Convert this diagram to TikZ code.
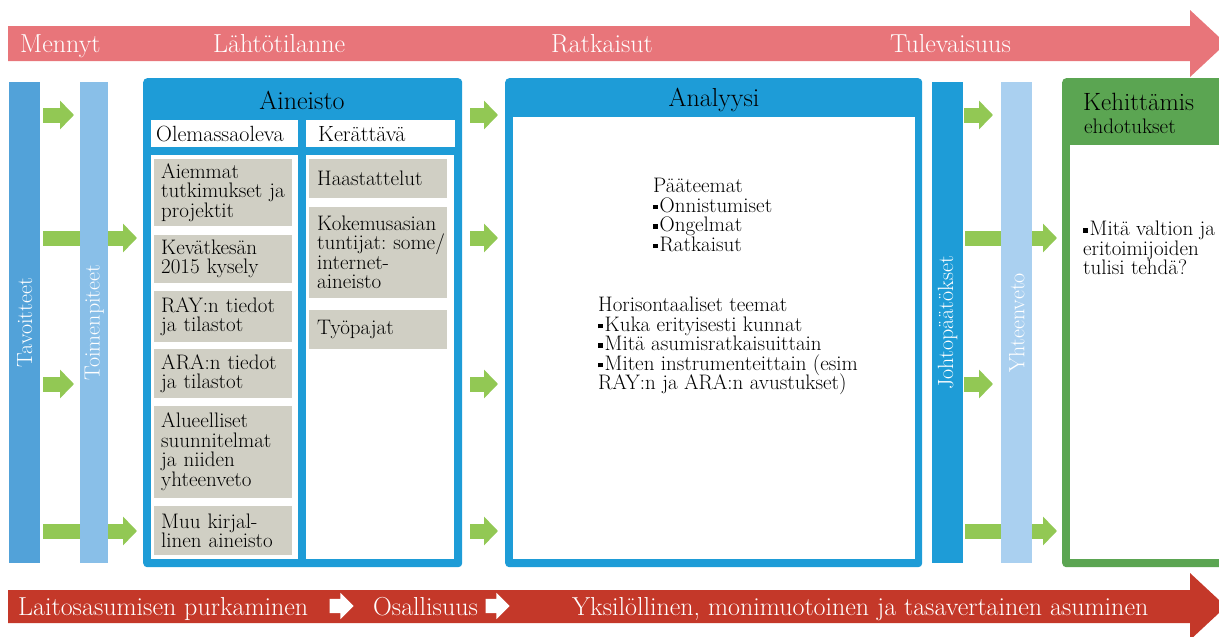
\documentclass[tikz,border=0pt]{standalone}
\usepackage{fontspec}
\usetikzlibrary{arrows.meta,positioning,shapes.arrows,backgrounds}

\definecolor{bandtop}{RGB}{232,117,122}
\definecolor{bandbot}{RGB}{196,56,41}
\definecolor{aqua}{RGB}{30,156,215}
\definecolor{barone}{RGB}{82,162,217}
\definecolor{bartwo}{RGB}{137,191,232}
\definecolor{barthree}{RGB}{170,208,240}
\definecolor{leaf}{RGB}{91,165,82}
\definecolor{shoot}{RGB}{146,200,84}
\definecolor{stone}{RGB}{208,207,196}

\newcommand{\bandf}{\fontsize{26}{28}\selectfont}
\newcommand{\headf}{\fontsize{26}{28}\selectfont}
\newcommand{\bodyf}{\fontsize{21}{19.5}\selectfont\lineskiplimit=-20pt\lineskip=0pt}
\newcommand{\textf}{\fontsize{21}{19.5}\selectfont\lineskiplimit=-20pt\lineskip=0pt}
\newcommand{\sqb}{\rule[3pt]{4.5pt}{4.5pt}\hspace{2pt}}

\tikzset{
  bar/.style={anchor=north west, minimum width=31pt, minimum height=481pt, inner sep=0pt},
  bartext/.style={rotate=90, text=white, font=\fontsize{22}{24}\selectfont, inner sep=0pt},
  bigbox/.style={anchor=north west, rounded corners=4pt, minimum height=489pt, inner sep=0pt},
  panel/.style={fill=white, anchor=north west, minimum height=404pt, minimum width=147pt, inner sep=0pt},
  subhead/.style={fill=white, anchor=north west, minimum height=27pt, text width=137pt, inner xsep=5pt, inner ysep=0pt, align=left, font=\fontsize{22}{24}\selectfont},
  greybox/.style={fill=stone, anchor=north west, text width=124pt, inner xsep=7pt, inner ysep=0pt, align=left, font=\bodyf},
  bodytext/.style={anchor=north west, align=left, font=\textf, inner sep=0pt},
  garrow/.style={draw=shoot, line width=15pt, -{Triangle[length=14pt,width=28pt]}},
  bandtext/.style={text=white, font=\bandf, anchor=base west, inner sep=0pt},
  wtip/.style={single arrow, fill=white, minimum height=24pt, minimum width=26pt, single arrow head extend=6pt, inner sep=0pt}
}

\begin{document}
\begin{tikzpicture}[x=1pt,y=-1pt]
\useasboundingbox (0,0) rectangle (1219,637);

\fill[bandtop] (8,26) -- (1190,26) -- (1190,10) -- (1226,43.5) -- (1190,77) -- (1190,61) -- (8,61) -- cycle;
\fill[bandbot] (8,590) -- (1190,590) -- (1190,573) -- (1226,606.5) -- (1190,640) -- (1190,623) -- (8,623) -- cycle;

\node[bandtext] (past) at (20,52) {Mennyt};
\node[bandtext] (start) at (213,52) {Lähtötilanne};
\node[bandtext] (sol) at (551,52) {Ratkaisut};
\node[bandtext] (fut) at (890,52) {Tulevaisuus};

\node[bandtext] (dein) at (18,615) {Laitosasumisen purkaminen};
\node[wtip] (wa1) at (338,606) {\rule{0pt}{14pt}};
\node[bandtext] (part) at (373,615) {Osallisuus};
\node[wtip] (wa2) at (494,606) {\rule{0pt}{14pt}};
\node[bandtext] (indiv) at (572,615) {Yksilöllinen, monimuotoinen ja tasavertainen asuminen};

\node[bar, fill=barone] (tav) at (9,82) {};
\node[bar, fill=bartwo, minimum width=28pt] (toim) at (80,82) {};
\node[bar, fill=aqua] (joh) at (932,82) {};
\node[bar, fill=barthree] (yht) at (1001,82) {};
\node[bartext] (tavt) at (tav.center) {Tavoitteet};
\node[bartext] (toimt) at (toim.center) {Toimenpiteet};
\node[bartext] (joht) at (joh.center) {Johtopäätökset};
\node[bartext] (yhtt) at (yht.center) {Yhteenveto};

\node[bigbox, fill=aqua, minimum width=319pt] (ain) at (143,78) {};
\node[font=\headf, inner sep=0pt] (aint) at (302,100) {Aineisto};
\node[subhead] (olem) at (151,120) {Olemassaoleva};
\node[subhead, text width=125pt, inner xsep=12pt] (ker) at (306,120) {Kerättävä};
\node[panel] (colL) at (151,155) {};
\node[panel, minimum width=148pt] (colR) at (306,155) {};

\node[greybox, minimum height=67pt] (g1) at (154,159) {Aiemmat\\ tutkimukset~ja\\ projektit};
\node[greybox, minimum height=48pt, below=8pt of g1] (g2) {Kevätkesän\\ 2015 kysely};
\node[greybox, minimum height=51pt, below=8pt of g2] (g3) {RAY:n tiedot\\ ja tilastot};
\node[greybox, minimum height=49pt, below=7pt of g3] (g4) {ARA:n tiedot\\ ja tilastot};
\node[greybox, minimum height=92pt, below=7pt of g4] (g5) {Alueelliset\\ suunnitelmat\\ ja niiden\\ yhteenveto};
\node[greybox, minimum height=49pt, below=8pt of g5] (g6) {Muu kirjal-\\ linen~aineisto};

\node[greybox, minimum height=39pt, inner xsep=8pt, text width=122pt] (k1) at (309,159) {Haastattelut};
\node[greybox, minimum height=91pt, inner xsep=8pt, text width=122pt, below=8pt of k1] (k2) {Kokemusasian\\ tuntijat:~some/\\ internet-\\ aineisto};
\node[greybox, minimum height=39pt, inner xsep=8pt, text width=122pt, below=12pt of k2] (k3) {Työpajat};

\node[bigbox, fill=aqua, minimum width=417pt] (ana) at (505,78) {};
\node[fill=white, anchor=north west, minimum width=402pt, minimum height=442pt, inner sep=0pt] (anain) at (513,117) {};
\node[font=\headf, inner sep=0pt] (anat) at (714,100) {Analyysi};
\node[bodytext] (themes) at (653,178) {Pääteemat\\ \sqb Onnistumiset\\ \sqb Ongelmat\\ \sqb Ratkaisut};
\node[bodytext] (horiz) at (598,297) {Horisontaaliset teemat\\ \sqb Kuka erityisesti kunnat\\ \sqb Mitä asumisratkaisuittain\\ \sqb Miten instrumenteittain (esim\\ RAY:n ja ARA:n avustukset)};

\node[bigbox, fill=leaf, minimum width=175pt] (keh) at (1062,78) {};
\node[fill=white, anchor=north west, minimum width=170pt, minimum height=414pt, inner sep=0pt] (kehin) at (1070,145) {};
\node[anchor=west, font=\fontsize{25}{27}\selectfont, inner sep=0pt] (keht) at (1083,102) {Kehittämis};
\node[anchor=west, font=\fontsize{21}{22}\selectfont, inner sep=0pt] (kehs) at (1084,126) {ehdotukset};
\node[bodytext] (kehq) at (1083,221) {\sqb Mitä valtion ja\\ eritoimijoiden\\ tulisi tehdä?};

\coordinate (r1) at (0,115);
\coordinate (r2) at (0,238);
\coordinate (r3) at (0,384);
\coordinate (r4) at (0,531);

\begin{scope}[on background layer]
\foreach \i in {2,4} {
  \draw[garrow, shorten <=3pt, shorten >=6pt] (tav.east |- r\i) -- (ain.west |- r\i);
  \draw[garrow, shorten <=2pt, shorten >=5pt] (joh.east |- r\i) -- (keh.west |- r\i);
}
\end{scope}
\foreach \i in {1,3} {
  \draw[garrow, shorten <=3pt, shorten >=6pt] (tav.east |- r\i) -- (toim.west |- r\i);
  \draw[garrow, shorten <=1pt, shorten >=8pt] (joh.east |- r\i) -- (yht.west |- r\i);
}
\foreach \i in {1,...,4}
  \draw[garrow, shorten <=8pt, shorten >=7pt] (ain.east |- r\i) -- (ana.west |- r\i);
\end{tikzpicture}
\end{document}
